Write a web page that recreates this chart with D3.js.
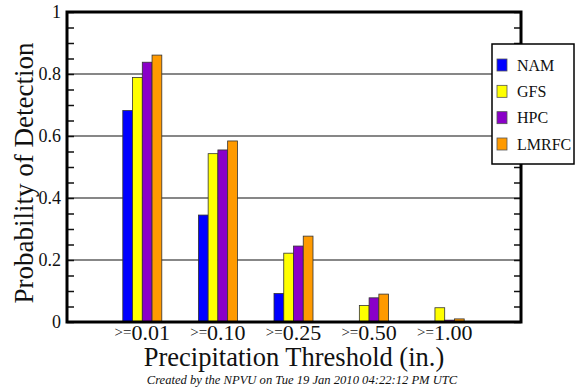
<!DOCTYPE html>
<html><head><meta charset="utf-8">
<script src="https://cdn.jsdelivr.net/npm/d3@7"></script>
<style>body{margin:0;background:#fff}svg{display:block}</style>
</head><body>
<script>
const categories = [">= 0.01", ">= 0.10", ">= 0.25", ">= 0.50", ">= 1.00"];
const seriesNames = ["NAM", "GFS", "HPC", "LMRFC"];
const seriesColors = ["#0000ff", "#ffff00", "#8a00c8", "#ff9a00"];
const NAM = [0.682, 0.345, 0.092, 0.002, 0.0];
const GFS = [0.789, 0.543, 0.222, 0.053, 0.046];
const HPC = [0.838, 0.555, 0.245, 0.078, 0.006];
const LMRFC = [0.861, 0.584, 0.277, 0.090, 0.010];
const seriesValues = [NAM, GFS, HPC, LMRFC];
const yTicks = [0, 0.2, 0.4, 0.6, 0.8, 1];
const yTickLabels = ["0", "0.2", "0.4", "0.6", "0.8", "1"];

const FONT = '"Liberation Serif"';
const W = 576, H = 389;
const L = 67, R = 521, T = 12, B = 322;
const svg = d3.select("body").append("svg").attr("width", W).attr("height", H);

const y = d3.scaleLinear().domain([0, 1]).range([B, T]);
const x0 = d3.scaleBand().domain(categories).range([104.5, 482.5]).paddingInner(0).paddingOuter(0);
const x1 = d3.scaleBand().domain(seriesNames).range([x0.bandwidth()/2 - 19.5, x0.bandwidth()/2 + 19.5]);

// gridlines
svg.append("g").selectAll("line").data([0.2, 0.4, 0.6, 0.8]).join("line")
  .attr("x1", L).attr("x2", R).attr("y1", d => y(d)).attr("y2", d => y(d))
  .attr("stroke", "#111").attr("stroke-width", 1.2);

// minor ticks left & right
const tickVals = d3.range(0, 1.0001, 0.05);
const axL = d3.axisLeft(y).tickValues(tickVals).tickSize(-7).tickFormat("");
const axR = d3.axisRight(y).tickValues(tickVals).tickSize(-7).tickFormat("");
const gL = svg.append("g").attr("transform", `translate(${L},0)`).call(axL);
const gR = svg.append("g").attr("transform", `translate(${R},0)`).call(axR);
[gL, gR].forEach(g => { g.select(".domain").remove(); g.selectAll("line").attr("stroke", "#111").attr("stroke-width", 1.5); });

// bars
const groups = svg.append("g").selectAll("g").data(categories).join("g")
  .attr("transform", c => `translate(${x0(c)},0)`);
groups.selectAll("rect").data((c, i) => seriesNames.map((s, j) => ({s, j, v: seriesValues[j][i]}))).join("rect")
  .attr("x", d => x1(d.s)).attr("width", x1.bandwidth())
  .attr("y", d => y(d.v)).attr("height", d => y(0) - y(d.v))
  .attr("fill", d => seriesColors[d.j]).attr("stroke", "#333").attr("stroke-width", 0.8);

// frame
svg.append("rect").attr("x", L).attr("y", T).attr("width", R - L).attr("height", B - T)
  .attr("fill", "none").attr("stroke", "#000").attr("stroke-width", 3);

function txt(sel) { return sel.style("font-family", FONT).attr("fill", "#111"); }

// y tick labels
txt(svg.append("g").selectAll("text").data(yTicks).join("text")
  .attr("x", 61).attr("y", d => y(d) + 6).attr("text-anchor", "end")
  .attr("font-size", 18).text((d, i) => yTickLabels[i]));

// x tick labels
const xt = txt(svg.append("g").selectAll("text").data(categories).join("text")
  .attr("x", c => x0(c) + x0.bandwidth() / 2).attr("y", 340).attr("text-anchor", "middle"));
xt.append("tspan").attr("font-size", 15).attr("dy", -3).text(c => c.split(" ")[0]);
xt.append("tspan").attr("font-size", 22).attr("dy", 3).text(c => c.split(" ")[1]);

// axis titles
txt(svg.append("text").attr("transform", `translate(33,${(T + B) / 2 + 6}) rotate(-90)`).attr("text-anchor", "middle")
  .attr("font-size", 27).text("Probability of Detection"));
txt(svg.append("text").attr("x", (L + R) / 2).attr("y", 366).attr("text-anchor", "middle")
  .attr("font-size", 26.5).text("Precipitation Threshold (in.)"));
txt(svg.append("text").attr("x", 302).attr("y", 384).attr("text-anchor", "middle")
  .attr("font-size", 12.6).attr("font-style", "italic")
  .text("Created by  the NPVU on Tue 19 Jan 2010 04:22:12 PM UTC"));

// legend
const lg = svg.append("g");
lg.append("rect").attr("x", 492).attr("y", 44).attr("width", 82).attr("height", 120)
  .attr("fill", "#fff").attr("stroke", "#000").attr("stroke-width", 1.5);
const ly = d3.scalePoint().domain(seriesNames).range([65, 144]);
lg.selectAll("rect.k").data(seriesNames).join("rect").attr("class", "k")
  .attr("x", 497).attr("y", s => ly(s) - 6).attr("width", 10).attr("height", 12)
  .attr("fill", (s, i) => seriesColors[i]).attr("stroke", "#555").attr("stroke-width", 0.8);
txt(lg.selectAll("text").data(seriesNames).join("text")
  .attr("x", 517).attr("y", s => ly(s) + 5.5).attr("font-size", 16).text(s => s));
</script>
</body></html>
